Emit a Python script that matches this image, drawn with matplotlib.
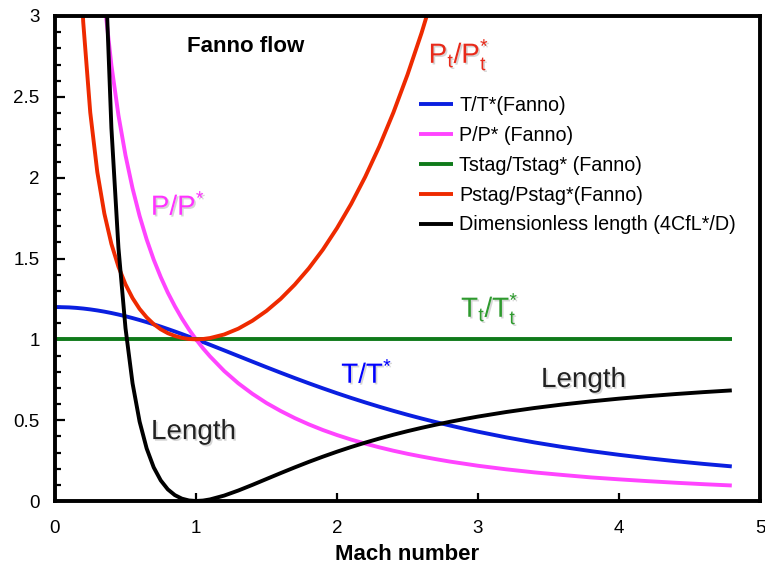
import numpy as np
import matplotlib
matplotlib.use('Agg')
import matplotlib.pyplot as plt
import matplotlib.ticker as mticker
import matplotlib.patheffects as pe

plt.rcParams['font.family'] = ['Liberation Sans', 'DejaVu Sans']
plt.rcParams['mathtext.fontset'] = 'custom'
plt.rcParams['mathtext.rm'] = 'Liberation Sans'
plt.rcParams['mathtext.it'] = 'Liberation Sans:italic'
plt.rcParams['mathtext.bf'] = 'Liberation Sans:bold'
plt.rcParams['mathtext.default'] = 'regular'

nan = np.nan

# Fanno flow table (gamma = 1.4)
mach = [0.0, 0.1, 0.15, 0.2, 0.25, 0.3, 0.35, 0.4, 0.45, 0.5, 0.55, 0.6,
        0.65, 0.7, 0.75, 0.8, 0.85, 0.9, 0.95, 1.0, 1.05, 1.1, 1.2, 1.3,
        1.4, 1.5, 1.6, 1.7, 1.8, 1.9, 2.0, 2.1, 2.2, 2.3, 2.4, 2.5, 2.6,
        2.7, 2.8, 2.9, 3.0, 3.2, 3.4, 3.6, 3.8, 4.0, 4.2, 4.4, 4.6, 4.8]

t_ratio = [1.2, 1.1976, 1.1946, 1.1905, 1.1852, 1.1788, 1.1713, 1.1628,
           1.1533, 1.1429, 1.1315, 1.1194, 1.1065, 1.0929, 1.0787, 1.0638,
           1.0485, 1.0327, 1.0165, 1.0, 0.9832, 0.9662, 0.9317, 0.8969,
           0.8621, 0.8276, 0.7937, 0.7605, 0.7282, 0.6969, 0.6667, 0.6376,
           0.6098, 0.5831, 0.5576, 0.5333, 0.5102, 0.4882, 0.4673, 0.4474,
           0.4286, 0.3937, 0.3623, 0.3341, 0.3086, 0.2857, 0.2650, 0.2463,
           0.2294, 0.2140]

p_ratio = [nan, 10.944, 7.287, 5.455, 4.355, 3.619, 3.092, 2.696, 2.386,
           2.138, 1.934, 1.763, 1.618, 1.493, 1.385, 1.289, 1.205, 1.129,
           1.061, 1.0, 0.944, 0.894, 0.804, 0.728, 0.663, 0.606, 0.557,
           0.513, 0.474, 0.439, 0.408, 0.380, 0.355, 0.332, 0.311, 0.292,
           0.275, 0.259, 0.244, 0.231, 0.218, 0.196, 0.177, 0.161, 0.146,
           0.134, 0.123, 0.113, 0.104, 0.096]

tstag_ratio = [1.0] * len(mach)

pstag_ratio = [nan, 5.822, 3.910, 2.964, 2.403, 2.035, 1.778, 1.590, 1.449,
               1.340, 1.255, 1.188, 1.136, 1.094, 1.062, 1.038, 1.021, 1.009,
               1.002, 1.0, 1.002, 1.008, 1.030, 1.066, 1.115, 1.176, 1.250,
               1.338, 1.439, 1.555, 1.688, 1.837, 2.005, 2.193, 2.403, 2.637,
               2.896, 3.183, 3.500,
               nan, nan, nan, nan, nan, nan, nan, nan, nan, nan, nan]

length = [nan, 66.922, 27.932, 14.533, 8.483, 5.299, 3.452, 2.308, 1.566,
          1.069, 0.728, 0.491, 0.325, 0.208, 0.1273, 0.072, 0.0363, 0.0145,
          0.0033, 0.0, 0.0027, 0.0099, 0.0336, 0.0648, 0.0997, 0.1361,
          0.1724, 0.2078, 0.2419, 0.2743, 0.3050, 0.3339, 0.3609, 0.3862,
          0.4099, 0.4320, 0.4526, 0.4718, 0.4898, 0.5065, 0.5222, 0.5504,
          0.5752, 0.5970, 0.6161, 0.6331, 0.6481, 0.6615, 0.6735, 0.6842]

series = [
    ('T/T*(Fanno)',                    t_ratio,     '#0a1fe0'),
    ('P/P* (Fanno)',                   p_ratio,     '#ff44ff'),
    ('Tstag/Tstag* (Fanno)',           tstag_ratio, '#0f7a1a'),
    ('Pstag/Pstag*(Fanno)',            pstag_ratio, '#ee2a00'),
    ('Dimensionless length (4CfL*/D)', length,      '#000000'),
]

fig = plt.figure(figsize=(7.65, 5.70), dpi=100)
ax = fig.add_axes([55 / 765, 1 - 501 / 570, 705 / 765, 485 / 570])

for label, vals, color in series:
    ax.plot(mach, vals, color=color, lw=2.8, label=label,
            solid_capstyle='butt', solid_joinstyle='round')

ax.set_xlim(0, 5)
ax.set_ylim(0, 3)
ax.xaxis.set_major_locator(mticker.MultipleLocator(1))
ax.yaxis.set_major_locator(mticker.MultipleLocator(0.5))
ax.yaxis.set_minor_locator(mticker.MultipleLocator(0.1))
ax.yaxis.set_major_formatter(mticker.FormatStrFormatter('%g'))
ax.xaxis.set_major_formatter(mticker.FormatStrFormatter('%g'))

ax.tick_params(axis='both', which='both', direction='in', labelsize=13.5,
               top=False, right=False, width=1.6, color='black')
ax.tick_params(axis='y', which='major', length=7, pad=11)
ax.tick_params(axis='y', which='minor', length=4.5)
ax.tick_params(axis='x', which='major', length=6, pad=14)
for sp in ax.spines.values():
    sp.set_linewidth(2.8)

ax.set_xlabel('Mach number', fontsize=16, fontweight='bold', labelpad=5)

shadow = [pe.SimplePatchShadow(offset=(1.2, -1.2), shadow_rgbFace='0.55',
                               alpha=0.35), pe.Normal()]

ax.text(0.936, 2.814, 'Fanno flow', fontsize=16, fontweight='bold',
        ha='left', va='center')
ax.text(0.68, 1.769, 'P/P$^{*}$', fontsize=20, color='#ff33ff',
        ha='left', va='baseline', path_effects=shadow)
ax.text(2.65, 2.709, 'P$_{t}$/P$_{t}^{*}$', fontsize=20, color='#e82a1a',
        ha='left', va='baseline', path_effects=shadow)
ax.text(2.88, 1.138, 'T$_{t}$/T$_{t}^{*}$', fontsize=20, color='#2e9a2e',
        ha='left', va='baseline', path_effects=shadow)
ax.text(2.03, 0.730, 'T/T$^{*}$', fontsize=20, color='#0000ff',
        ha='left', va='baseline', path_effects=shadow)
ax.text(3.447, 0.705, 'Length', fontsize=20, color='#222222',
        ha='left', va='baseline', path_effects=shadow)
ax.text(0.681, 0.383, 'Length', fontsize=20, color='#222222',
        ha='left', va='baseline', path_effects=shadow)

ax.legend(loc='upper left', bbox_to_anchor=(0.516, 0.835), frameon=False,
          fontsize=14.2, handlelength=1.75, handletextpad=0.3,
          labelspacing=0.55, borderpad=0, borderaxespad=0)

fig.savefig('out.png', dpi=100)
